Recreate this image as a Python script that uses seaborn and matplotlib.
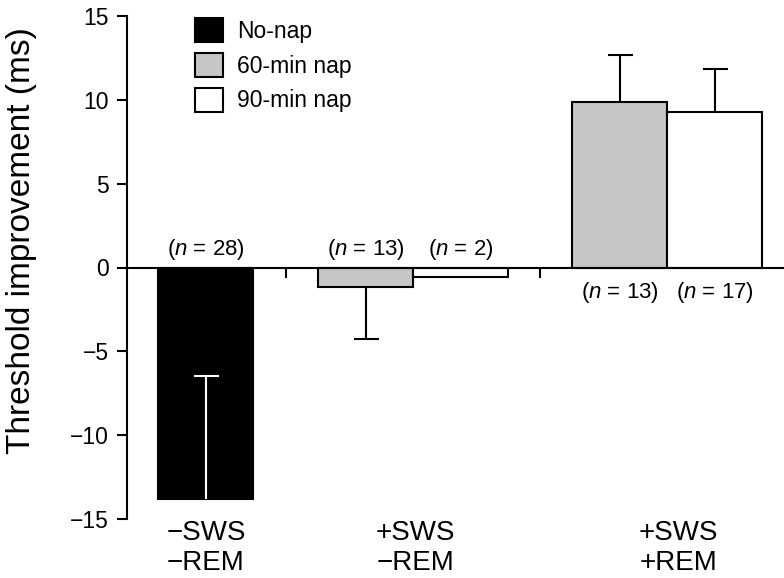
import numpy as np
import pandas as pd
import matplotlib
matplotlib.use('Agg')
import matplotlib.pyplot as plt
import matplotlib.transforms as mtransforms
from matplotlib.patches import Patch
import seaborn as sns

# data
conditions = ['\u2212SWS\n\u2212REM', '+SWS\n\u2212REM', '+SWS\n+REM']
bar_group = [0, 1, 1, 2, 2]
bar_nap = ['No-nap', '60-min nap', '90-min nap', '60-min nap', '90-min nap']
means = [-13.8, -1.15, -0.55, 9.9, 9.25]
err_up = [7.35, 0.0, 0.0, 2.8, 2.6]
err_down = [0.0, 3.1, 0.0, 0.0, 0.0]
n_subj = [28, 13, 2, 13, 17]
nap_order = ['No-nap', '60-min nap', '90-min nap']

sns.set_style('ticks')
plt.rcParams['font.family'] = ['Liberation Sans', 'DejaVu Sans']
plt.rcParams['mathtext.fontset'] = 'custom'
plt.rcParams['mathtext.it'] = 'Liberation Sans:italic'
plt.rcParams['mathtext.rm'] = 'Liberation Sans'
for k in ['text.color', 'axes.labelcolor', 'xtick.color', 'ytick.color', 'axes.edgecolor']:
    plt.rcParams[k] = 'black'

palette = {'No-nap': 'black', '60-min nap': '#c6c6c6', '90-min nap': 'white'}

# layout: group centres in bar-width units, bars side by side within a group
group_centers = [0.0, 2.18, 4.85]
pos = []
for i, g in enumerate(bar_group):
    members = [j for j, gg in enumerate(bar_group) if gg == g]
    k = members.index(i)
    pos.append(group_centers[g] + k - (len(members) - 1) / 2)

df = pd.DataFrame({'pos': pos, 'value': means, 'nap': bar_nap})

fig = plt.figure(figsize=(7.84, 5.78), dpi=100)
ax = fig.add_axes([127 / 784, 1 - 519 / 578, 1 - 127 / 784, (519 - 16) / 578])

sns.barplot(data=df, x='pos', y='value', hue='nap', hue_order=nap_order,
            palette=palette, native_scale=True, dodge=False, width=1,
            edgecolor='black', linewidth=1.5, errorbar=None, legend=False, ax=ax)

# one-sided error bars (no cap at the bar end)
for x, m, lo, hi, nap in zip(pos, means, err_down, err_up, bar_nap):
    if lo == 0 and hi == 0:
        continue
    col = 'white' if nap == 'No-nap' else 'black'
    _, caps, _ = ax.errorbar(x, m, yerr=[[lo], [hi]], fmt='none', ecolor=col,
                             elinewidth=1.5, capsize=9, capthick=1.5, zorder=5)
    if lo == 0:
        caps[0].set_visible(False)
    if hi == 0:
        caps[1].set_visible(False)

# n labels: above the zero line for negative bars, below for positive
for x, m, n in zip(pos, means, n_subj):
    if m < 0:
        ax.text(x, 0.3, '($n$ = %d)' % n, ha='center', va='bottom', fontsize=16)
    else:
        ax.text(x, -0.75, '($n$ = %d)' % n, ha='center', va='top', fontsize=16)

ax.set_ylim(-15, 15)
ax.set_xlim(-0.83, 6.08)
ax.set_yticks([-15, -10, -5, 0, 5, 10, 15])
ax.set_yticklabels(['\u221215', '\u221210', '\u22125', '0', '5', '10', '15'])
ax.tick_params(axis='y', direction='out', length=7, width=1.5, labelsize=16.5, pad=6)

# separators between condition groups, drawn on the zero line
ends = [(min(p for p, g in zip(pos, bar_group) if g == k) - 0.5,
         max(p for p, g in zip(pos, bar_group) if g == k) + 0.5) for k in range(3)]
seps = [(ends[k][1] + ends[k + 1][0]) / 2 for k in range(2)]
ax.set_xticks([])
ax.set_xticks(seps, minor=True)
ax.tick_params(axis='x', which='minor', direction='out', length=7, width=1.5)
ax.set_xlabel('')
ax.set_ylabel('')

ax.spines['bottom'].set_position(('data', 0))
ax.spines['top'].set_visible(False)
ax.spines['right'].set_visible(False)
ax.spines['left'].set_linewidth(1.5)
ax.spines['bottom'].set_linewidth(1.5)

trans = mtransforms.blended_transform_factory(ax.transData, ax.transAxes)
label_x = [0.0, 2.2, 4.97]
for x, lab in zip(label_x, conditions):
    ax.text(x, -0.002, lab, transform=trans, ha='center', va='top',
            fontsize=20, linespacing=1.2)

fig.text(22 / 784, 1 - 241 / 578, 'Threshold improvement (ms)', rotation=90,
         ha='center', va='center', fontsize=24)

handles = [Patch(facecolor=palette[k], edgecolor='black', linewidth=1.5) for k in nap_order]
fig.legend(handles, nap_order, loc='upper left',
           bbox_to_anchor=(195 / 784, 1 - 18 / 578), bbox_transform=fig.transFigure,
           frameon=False, borderpad=0, borderaxespad=0, fontsize=16.5,
           handlelength=1.22, handleheight=1.22, labelspacing=0.45,
           handletextpad=0.62)

fig.savefig('out.png', dpi=100)
